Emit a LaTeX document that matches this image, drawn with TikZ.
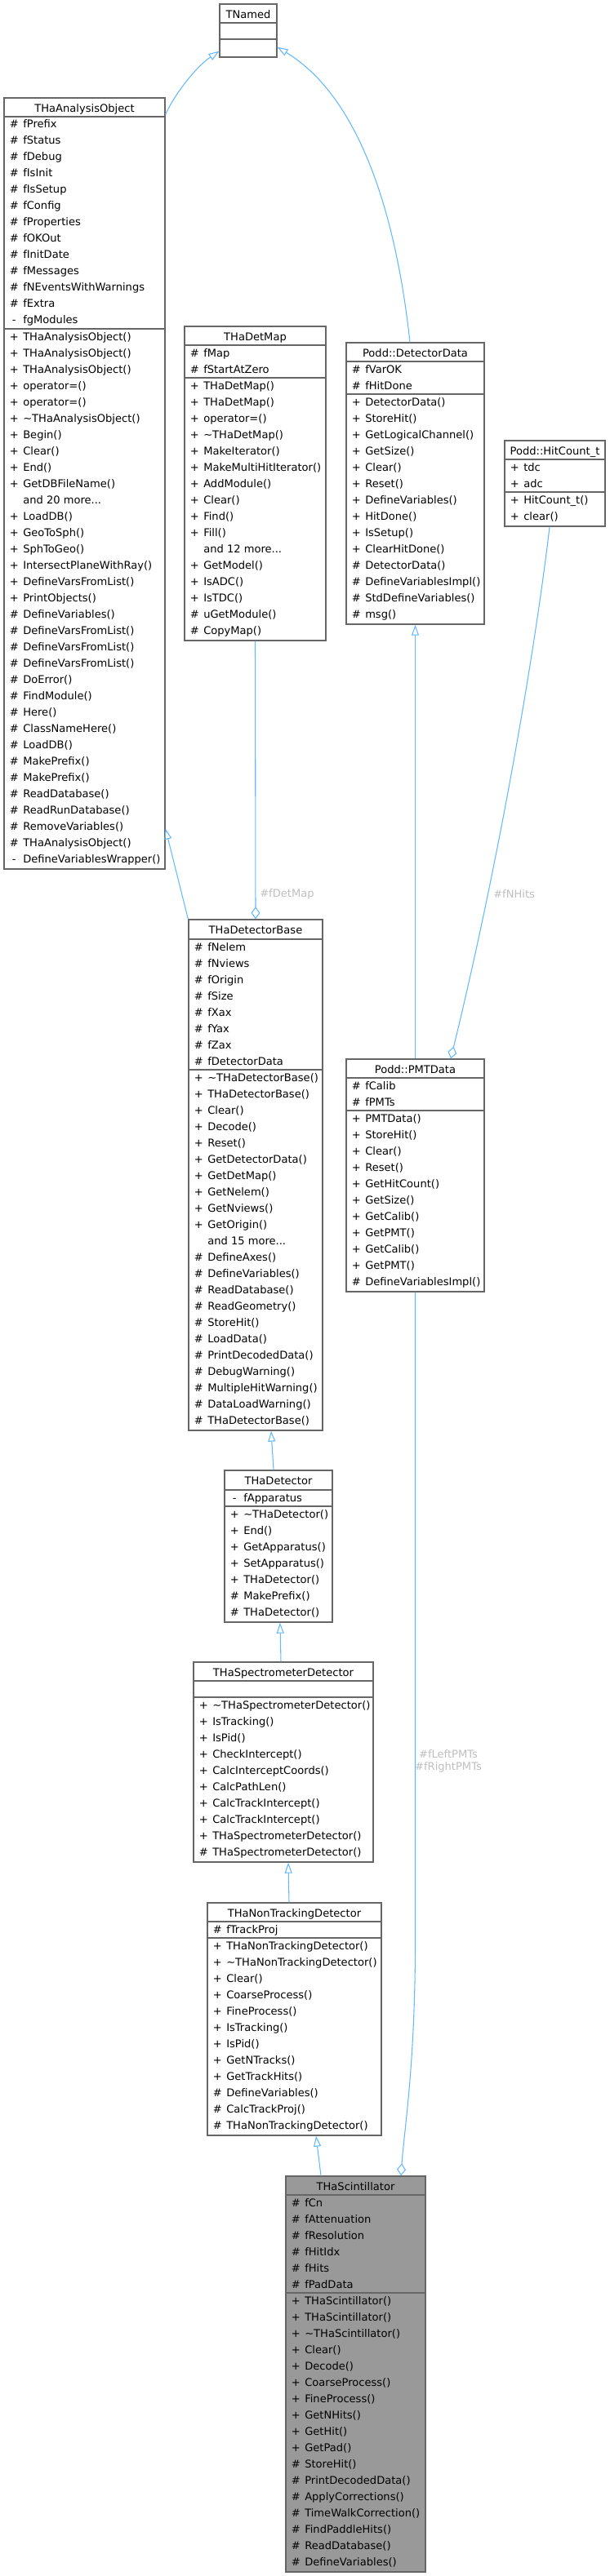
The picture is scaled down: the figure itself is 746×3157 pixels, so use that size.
\documentclass[tikz,border=0pt]{standalone}
\usepackage{fontspec}
\setmainfont{DejaVu Sans}
\usetikzlibrary{arrows.meta,fit,calc}
\definecolor{edgeblue}{HTML}{63B8FF}
\definecolor{boxgray}{HTML}{666666}
\definecolor{scintfill}{HTML}{999999}
\definecolor{lblgray}{HTML}{BEBEBE}
\newcommand\rowfont{\fontsize{9.8pt}{11.25pt}\selectfont}
\newcommand\tdots{...}
\def\visp{+}\def\vish{\#}\def\vism{-}\def\visn{}
\newcommand\rowlist[4]{%
  \foreach[count=\ri] \rsym/\rtxt in {#4}{%
    \node[rowtxt] (#1\ri) at (#2+4, #3+20*\ri-6) {\makebox[12pt][c]{\csname vis\rsym\endcsname}\hspace{2.25pt}\rtxt};
  }}
\newcommand\cbox[9]{%
  \node[#9, fit={(#2,#3) (#4,#5)}] (#1) {};
  \draw[divst] (#2,#6) -- (#4,#6);
  \draw[divst] (#2,#7) -- (#4,#7);
  \node[titletxt] (#1-t) at ({(#2+#4)/2}, #3+17.5) {#8};
}
\begin{document}
\begin{tikzpicture}[x=0.75pt,y=-0.75pt,
  classst/.style={draw=boxgray, line width=1pt, inner sep=0pt, fill=white},
  scintst/.style={draw=boxgray, line width=1pt, inner sep=0pt, fill=scintfill},
  divst/.style={draw=boxgray, line width=1pt},
  rowtxt/.style={anchor=base west, inner sep=0pt, font=\rowfont, text=black},
  titletxt/.style={anchor=base, inner sep=0pt, font=\rowfont, text=black},
  lbl/.style={inner sep=0pt, font=\rowfont, text=lblgray},
  inh/.style={draw=edgeblue, line width=0.8pt, -{Triangle[open, length=9.75pt, width=6.75pt]}},
  aggr/.style={draw=edgeblue, line width=0.8pt, -{Diamond[open, length=11.25pt, width=8.25pt]}}]
\useasboundingbox (0,0) rectangle (746,3157);

% ---- boxes ----
\cbox{tnamed}{269}{5}{339}{70}{28}{48}{TNamed}{classst}

\cbox{aobj}{5}{120}{202}{1065}{143}{403}{THaAnalysisObject}{classst}
\rowlist{aobja}{5}{143}{h/fPrefix, h/fStatus, h/fDebug, h/fIsInit, h/fIsSetup, h/fConfig, h/fProperties, h/fOKOut, h/fInitDate, h/fMessages, h/fNEventsWithWarnings, h/fExtra, m/fgModules}
\rowlist{aobjm}{5}{403}{p/THaAnalysisObject(), p/THaAnalysisObject(), p/THaAnalysisObject(), p/operator=(), p/operator=(), p/\textasciitilde THaAnalysisObject(), p/Begin(), p/Clear(), p/End(), p/GetDBFileName(), n/and 20 more\tdots, p/LoadDB(), p/GeoToSph(), p/SphToGeo(), p/IntersectPlaneWithRay(), p/DefineVarsFromList(), p/PrintObjects(), h/DefineVariables(), h/DefineVarsFromList(), h/DefineVarsFromList(), h/DefineVarsFromList(), h/DoError(), h/FindModule(), h/Here(), h/ClassNameHere(), h/LoadDB(), h/MakePrefix(), h/MakePrefix(), h/ReadDatabase(), h/ReadRunDatabase(), h/RemoveVariables(), h/THaAnalysisObject(), m/DefineVariablesWrapper()}

\cbox{detmap}{226}{400}{399}{785}{423}{463}{THaDetMap}{classst}
\rowlist{detmapa}{226}{423}{h/fMap, h/fStartAtZero}
\rowlist{detmapm}{226}{463}{p/THaDetMap(), p/THaDetMap(), p/operator=(), p/\textasciitilde THaDetMap(), p/MakeIterator(), p/MakeMultiHitIterator(), p/AddModule(), p/Clear(), p/Find(), p/Fill(), n/and 12 more\tdots, p/GetModel(), p/IsADC(), p/IsTDC(), h/uGetModule(), h/CopyMap()}

\cbox{ddata}{424}{420}{593}{765}{443}{483}{Podd::DetectorData}{classst}
\rowlist{ddataa}{424}{443}{h/fVarOK, h/fHitDone}
\rowlist{ddatam}{424}{483}{p/DetectorData(), p/StoreHit(), p/GetLogicalChannel(), p/GetSize(), p/Clear(), p/Reset(), p/DefineVariables(), p/HitDone(), p/IsSetup(), p/ClearHitDone(), h/DetectorData(), h/DefineVariablesImpl(), h/StdDefineVariables(), h/msg()}

\cbox{hitc}{618}{540}{741}{645}{563}{603}{Podd::HitCount\_t}{classst}
\rowlist{hitca}{618}{563}{p/tdc, p/adc}
\rowlist{hitcm}{618}{603}{p/HitCount\_t(), p/clear()}

\cbox{detbase}{231}{1127}{395}{1753}{1151}{1311}{THaDetectorBase}{classst}
\rowlist{detbasea}{231}{1151}{h/fNelem, h/fNviews, h/fOrigin, h/fSize, h/fXax, h/fYax, h/fZax, h/fDetectorData}
\rowlist{detbasem}{231}{1311}{p/\textasciitilde THaDetectorBase(), p/THaDetectorBase(), p/Clear(), p/Decode(), p/Reset(), p/GetDetectorData(), p/GetDetMap(), p/GetNelem(), p/GetNviews(), p/GetOrigin(), n/and 15 more\tdots, h/DefineAxes(), h/DefineVariables(), h/ReadDatabase(), h/ReadGeometry(), h/StoreHit(), h/LoadData(), h/PrintDecodedData(), h/DebugWarning(), h/MultipleHitWarning(), h/DataLoadWarning(), h/THaDetectorBase()}

\cbox{pmt}{424}{1298}{593}{1583}{1321}{1361}{Podd::PMTData}{classst}
\rowlist{pmta}{424}{1321}{h/fCalib, h/fPMTs}
\rowlist{pmtm}{424}{1361}{p/PMTData(), p/StoreHit(), p/Clear(), p/Reset(), p/GetHitCount(), p/GetSize(), p/GetCalib(), p/GetPMT(), p/GetCalib(), p/GetPMT(), h/DefineVariablesImpl()}

\cbox{det}{275}{1802}{407}{1988}{1826}{1846}{THaDetector}{classst}
\rowlist{deta}{275}{1826}{m/fApparatus}
\rowlist{detm}{275}{1846}{p/\textasciitilde THaDetector(), p/End(), p/GetApparatus(), p/SetApparatus(), p/THaDetector(), h/MakePrefix(), h/THaDetector()}

\cbox{spec}{237}{2037}{457}{2282}{2060}{2080}{THaSpectrometerDetector}{classst}
\rowlist{specm}{237}{2080}{p/\textasciitilde THaSpectrometerDetector(), p/IsTracking(), p/IsPid(), p/CheckIntercept(), p/CalcInterceptCoords(), p/CalcPathLen(), p/CalcTrackIntercept(), p/CalcTrackIntercept(), p/THaSpectrometerDetector(), h/THaSpectrometerDetector()}

\cbox{nontr}{254}{2332}{467}{2617}{2355}{2375}{THaNonTrackingDetector}{classst}
\rowlist{nontra}{254}{2355}{h/fTrackProj}
\rowlist{nontrm}{254}{2375}{p/THaNonTrackingDetector(), p/\textasciitilde THaNonTrackingDetector(), p/Clear(), p/CoarseProcess(), p/FineProcess(), p/IsTracking(), p/IsPid(), p/GetNTracks(), p/GetTrackHits(), h/DefineVariables(), h/CalcTrackProj(), h/THaNonTrackingDetector()}

\cbox{scint}{350}{2667}{521}{3152}{2690}{2810}{THaScintillator}{scintst}
\rowlist{scinta}{350}{2690}{h/fCn, h/fAttenuation, h/fResolution, h/fHitIdx, h/fHits, h/fPadData}
\rowlist{scintm}{350}{2810}{p/THaScintillator(), p/THaScintillator(), p/\textasciitilde THaScintillator(), p/Clear(), p/Decode(), p/CoarseProcess(), p/FineProcess(), p/GetNHits(), p/GetHit(), p/GetPad(), h/StoreHit(), h/PrintDecodedData(), h/ApplyCorrections(), h/TimeWalkCorrection(), h/FindPaddleHits(), h/ReadDatabase(), h/DefineVariables()}

% ---- connectors ----
\draw[inh] ($(aobj.north east)+(0,21)$) .. controls (214,115) and (240,82) .. ($(tnamed.south west)+(0,-8)$);
\draw[inh] ($(ddata.north)+(-6.5,0)$) .. controls (488,290) and (450,125) .. ($(tnamed.south east)+(0,-13)$);
\draw[aggr] (detmap.south) -- (detbase.north);
\node[lbl, anchor=west] (lbldetmap) at (318,1096) {\#fDetMap};
\draw[inh] (pmt.north) -- (ddata.south);
\draw[aggr] ($(hitc.south)+(-6.5,0)$) .. controls (655,800) and (610,1060) .. ($(pmt.north)+(43.5,0)$);
\node[lbl, anchor=west] (lblnhits) at (604,1096) {\#fNHits};
\draw[inh] (detbase.north west) -- ($(aobj.south east)+(0,-50)$);
\draw[inh] ($(det.north)+(-6,0)$) -- ($(detbase.south)+(19,0)$);
\draw[inh] ($(spec.north)+(-3,0)$) -- ($(det.south)+(2,0)$);
\draw[inh] ($(nontr.north)+(-6.5,0)$) -- ($(spec.south)+(6,0)$);
\draw[inh] ($(scint.north)+(-42.5,0)$) -- ($(nontr.south)+(26.5,0)$);
\coordinate (pmtbend) at (508.5,2380);
\draw[aggr] (pmt.south) -- (pmtbend) .. controls (508.5,2530) and (495,2610) .. ($(scint.north)+(55.5,0)$);
\node[lbl, align=center] (lblpmts) at (549,2158.5) {\#fLeftPMTs\\\#fRightPMTs};
\end{tikzpicture}
\end{document}
